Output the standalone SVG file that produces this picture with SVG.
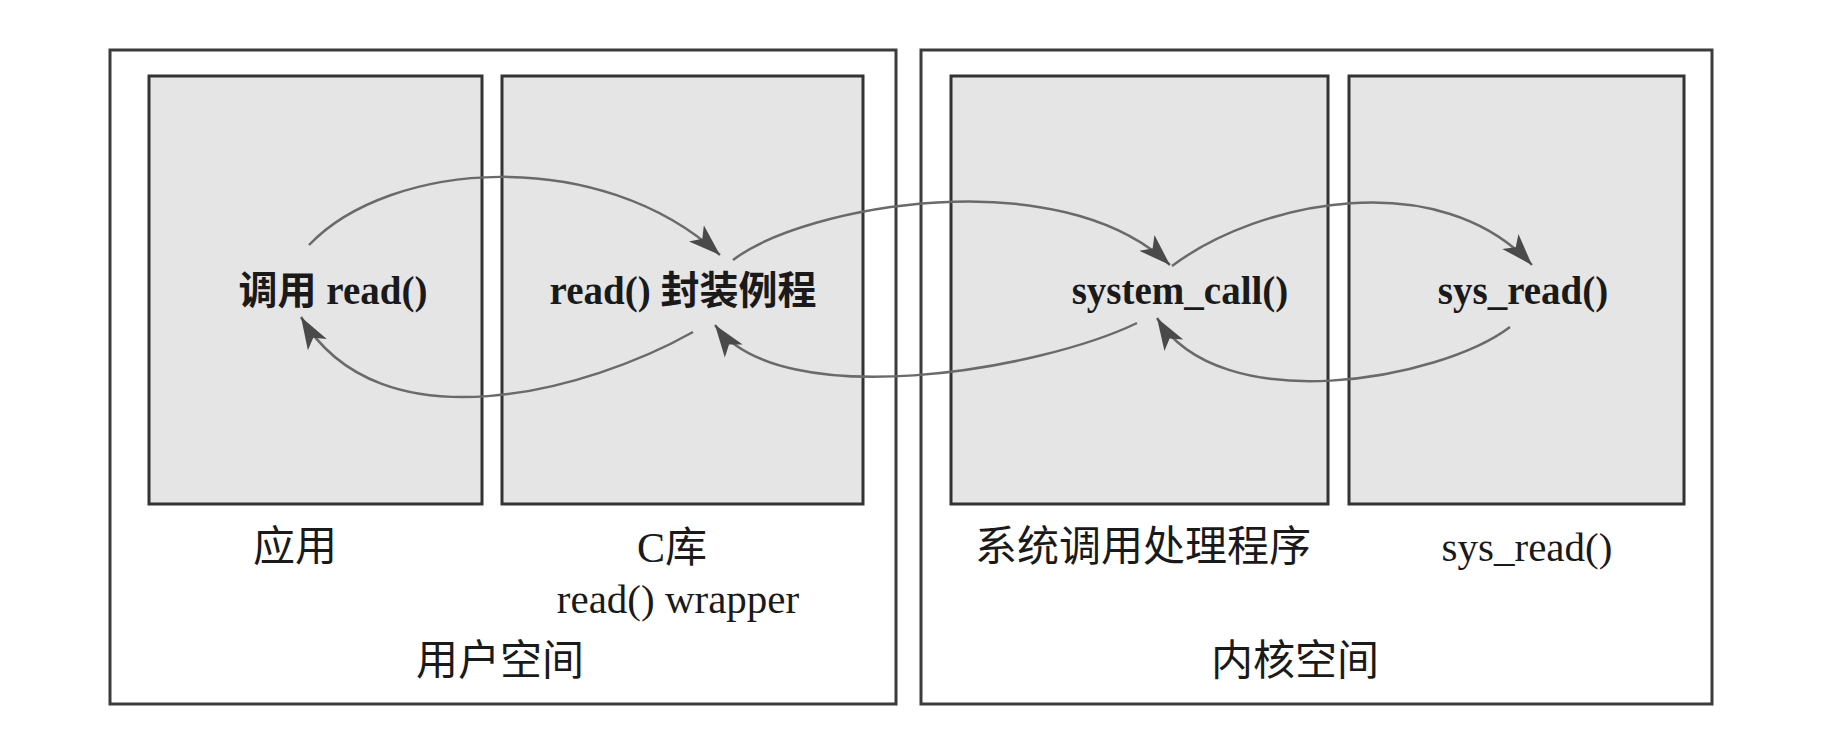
<svg xmlns="http://www.w3.org/2000/svg" width="1823" height="743" viewBox="0 0 1823 743">
  <style>
    .outer { fill: #ffffff; stroke: #3c3c3c; stroke-width: 3; }
    .box { fill: #e5e5e5; stroke: #333333; stroke-width: 3; }
    .inlabel { font-family: "Liberation Serif", "Noto Sans CJK SC", serif; font-size: 39px; font-weight: bold; fill: #1a1a1a; text-anchor: middle; }
    .label { font-family: "Liberation Serif", "Noto Sans CJK SC", serif; font-size: 42px; fill: #1a1a1a; text-anchor: middle; }
    .latin { font-size: 41px; }
    .conn { fill: none; stroke: #6a6a6a; stroke-width: 2.5; marker-end: url(#arrow); }
  </style>
  <defs>
    <marker id="arrow" markerUnits="userSpaceOnUse" markerWidth="34" markerHeight="26" refX="32" refY="13" orient="auto">
      <path d="M32,13 L0,2 L8,13 L0,24 Z" fill="#4a4a4a"/>
    </marker>
  </defs>
  <rect width="1823" height="743" fill="#ffffff"/>

  <g id="user-space">
    <rect class="outer" x="110" y="50" width="786" height="654"/>
    <text class="label" x="500" y="675">用户空间</text>
  </g>
  <g id="kernel-space">
    <rect class="outer" x="921" y="50" width="791" height="654"/>
    <text class="label" x="1295" y="675">内核空间</text>
  </g>

  <g id="app">
    <rect class="box" x="149" y="76" width="333" height="428"/>
    <text class="inlabel" x="333" y="304">调用 read()</text>
    <text class="label" x="295" y="561">应用</text>
  </g>
  <g id="clib">
    <rect class="box" x="502" y="76" width="361" height="428"/>
    <text class="inlabel" x="683" y="304">read() 封装例程</text>
    <text class="label" x="672" y="562">C库</text>
    <text class="label latin" x="678" y="613">read() wrapper</text>
  </g>
  <g id="syscall-handler">
    <rect class="box" x="951" y="76" width="377" height="428"/>
    <text class="inlabel" x="1180" y="304">system_call()</text>
    <text class="label" x="1143" y="561">系统调用处理程序</text>
  </g>
  <g id="sys-read">
    <rect class="box" x="1349" y="76" width="335" height="428"/>
    <text class="inlabel" x="1523" y="304">sys_read()</text>
    <text class="label latin" x="1527" y="561">sys_read()</text>
  </g>

  <g id="connectors">
    <path class="conn" d="M309,245 C390,160 600,145 720,255"/>
    <path class="conn" d="M733,260 C805,205 1060,160 1170,265"/>
    <path class="conn" d="M1172,266 C1260,200 1440,165 1532,265"/>
    <path class="conn" d="M1510,327 C1440,380 1220,420 1157,318"/>
    <path class="conn" d="M1137,323 C1040,370 780,415 715,325"/>
    <path class="conn" d="M693,332 C590,390 380,450 301,317"/>
  </g>
</svg>
